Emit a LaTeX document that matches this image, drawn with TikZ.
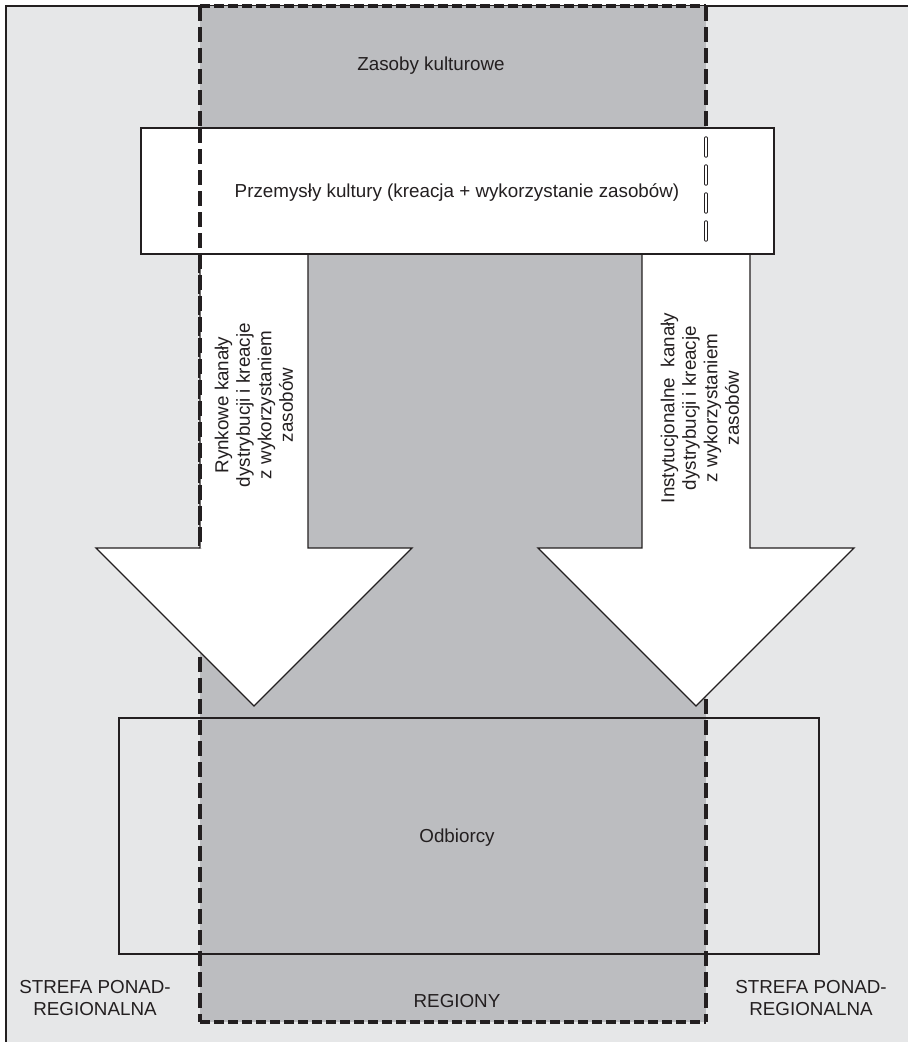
\documentclass[tikz,border=0pt]{standalone}
\usepackage{fontspec}
\setmainfont{Liberation Sans}
\definecolor{lightg}{HTML}{E6E7E8}
\definecolor{darkg}{HTML}{BCBDC0}
\definecolor{ink}{HTML}{231F20}
\begin{document}
\begin{tikzpicture}[x=1pt,y=-1pt,
  thinline/.style={draw=ink,line width=1.3pt},
  vdash/.style={draw=ink,line width=3.4pt,dash pattern=on 15pt off 6pt},
  hdash/.style={draw=ink,line width=3.2pt,dash pattern=on 10pt off 4pt},
  hollowdash/.style={draw=ink,line width=0.9pt,double=white,double distance=1.6pt,line cap=round,dash pattern=on 18pt off 10pt},
  txt/.style={font=\fontsize{18.8}{21.5}\selectfont, text=ink, inner sep=0pt, align=center},
  arrowshape/.style={fill=white,draw=ink,line width=1.3pt,line join=miter}]
\useasboundingbox (0,0) rectangle (908,1042);
\clip (0,0) rectangle (908,1042);
% outer frame
\fill[lightg] (6,6) rectangle (930,1060);
\draw[thinline] (6,1060) -- (6,6) -- (930,6);
% central region
\fill[darkg] (200,6) rectangle (706,1022);
\draw[hdash] (200,6) -- (706,6);
\draw[hdash] (200,1022) -- (706,1022);
\draw[vdash] (200,6) -- (200,1022);
\draw[vdash] (706,6) -- (706,1022);
% recipients box
\node[thinline, minimum width=700pt, minimum height=236pt, inner sep=0pt] (odb) at (469,836) {};
\node[txt] (odbt) at (457,838) {Odbiorcy};
% arrows
\draw[arrowshape] (200,254) -- (308,254) -- (308,548) -- (412,548) -- (254,706) -- (96,548) -- (200,548) -- cycle;
\draw[arrowshape] (642,254) -- (750,254) -- (750,548) -- (854,548) -- (696,706) -- (538,548) -- (642,548) -- cycle;
% industries box
\node[fill=white, thinline, minimum width=633pt, minimum height=126pt, inner sep=0pt] (prz) at (457.5,191) {};
\node[txt] (przt) at (457,193) {Przemysły kultury (kreacja + wykorzystanie zasobów)};
% dashed lines over box
\draw[vdash] (200,128) -- (200,548);
\draw[hollowdash] (706,138) -- (706,248);
% texts
\node[txt] (zas) at (431,66) {Zasoby kulturowe};
\node[txt, rotate=90] (rynk) at (254,405) {Rynkowe kanały\\dystrybucji i kreacje\\z wykorzystaniem\\zasobów};
\node[txt, rotate=90] (inst) at (700,408) {Instytucjonalne\ \ kanały\\dystrybucji i kreacje\\z wykorzystaniem\\zasobów};
\node[txt] (strl) at (95,998) {STREFA PONAD-\\REGIONALNA};
\node[txt] (strr) at (811,998) {STREFA PONAD-\\REGIONALNA};
\node[txt] (reg) at (457,1001) {REGIONY};
\end{tikzpicture}
\end{document}
